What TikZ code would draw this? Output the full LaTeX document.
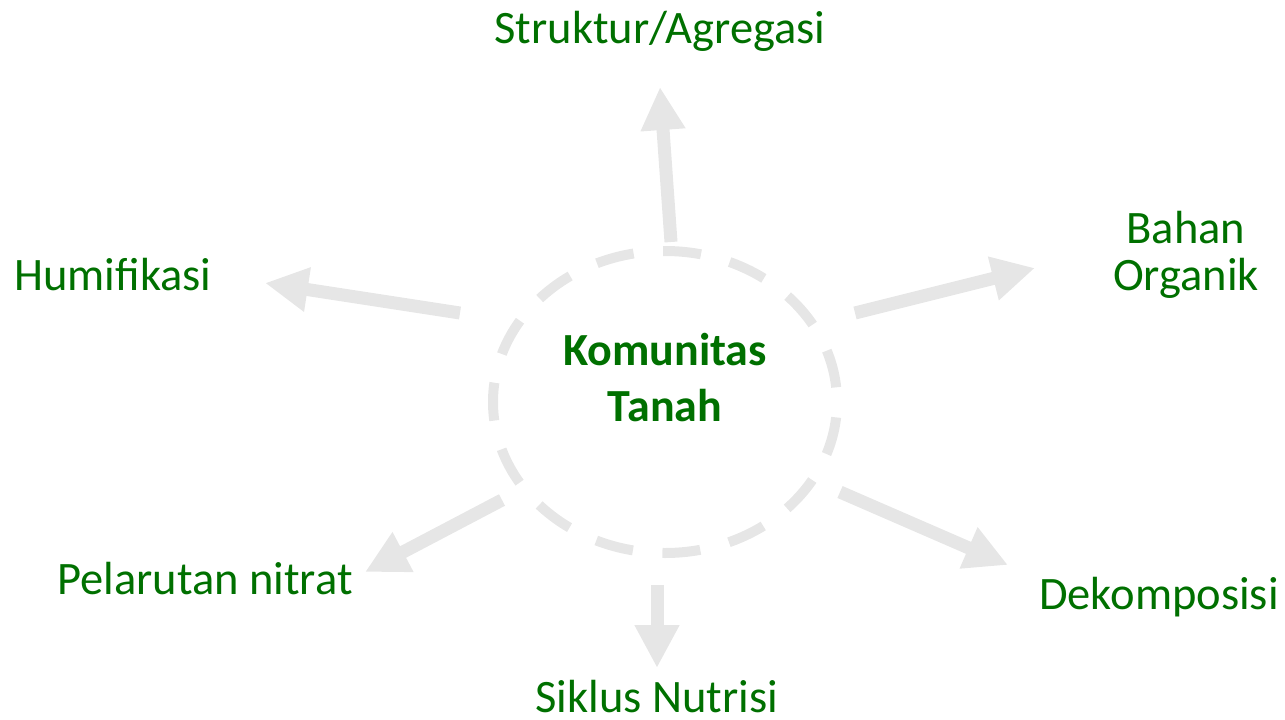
\documentclass[tikz,border=0pt]{standalone}
\usepackage{fontspec}
\setmainfont{Carlito}
\usetikzlibrary{arrows.meta,shapes.geometric}
\definecolor{txtgreen}{RGB}{0,112,0}
\definecolor{arrgray}{RGB}{230,230,230}
\begin{document}
\begin{tikzpicture}[x=1pt,y=-1pt,
 lbl/.style={text=txtgreen,font=\fontsize{46.5}{56}\selectfont,anchor=base,inner sep=0pt,align=center},
 hubtext/.style={text=txtgreen,font=\bfseries\fontsize{46}{56}\selectfont,inner sep=0pt,align=center},
 flow/.style={draw=arrgray,line width=13pt,-{Triangle[length=43pt,width=42pt]}},
 hub/.style={draw=arrgray,line width=10pt,dash pattern=on 38pt off 29.7pt,dash phase=53pt,ellipse,minimum width=344pt,minimum height=302pt,inner sep=0pt}
]
\useasboundingbox (0,0) rectangle (1285,720);
\node[hub] (c) at (665,402) {};
\node[hubtext] (ct) at (665,378) {Komunitas\\Tanah};

\node[lbl] (s) at (660,43) {Struktur/Agregasi};
\node[lbl] (b) at (1186,243) {Bahan};
\node[lbl] (o) at (1186,290) {Organik};
\node[lbl] (h) at (113,290) {Humifikasi};
\node[lbl] (p) at (205,594) {Pelarutan nitrat};
\node[lbl,text depth=0pt] (n) at (657,712) {Siklus Nutrisi};
\node[lbl] (d) at (1159,609) {Dekomposisi};

\coordinate (s1) at (671,242); \coordinate (s2) at (660,87);
\coordinate (b1) at (855,313); \coordinate (b2) at (1035,268);
\coordinate (h1) at (460,313); \coordinate (h2) at (265,283);
\coordinate (p1) at (502,500); \coordinate (p2) at (365,572);
\coordinate (n1) at (657,585); \coordinate (n2) at (657,668);
\coordinate (d1) at (840,492); \coordinate (d2) at (1008,565);

\draw[flow] (s1) -- (s2);
\draw[flow] (b1) -- (b2);
\draw[flow] (h1) -- (h2);
\draw[flow] (p1) -- (p2);
\draw[flow] (n1) -- (n2);
\draw[flow] (d1) -- (d2);
\end{tikzpicture}
\end{document}
